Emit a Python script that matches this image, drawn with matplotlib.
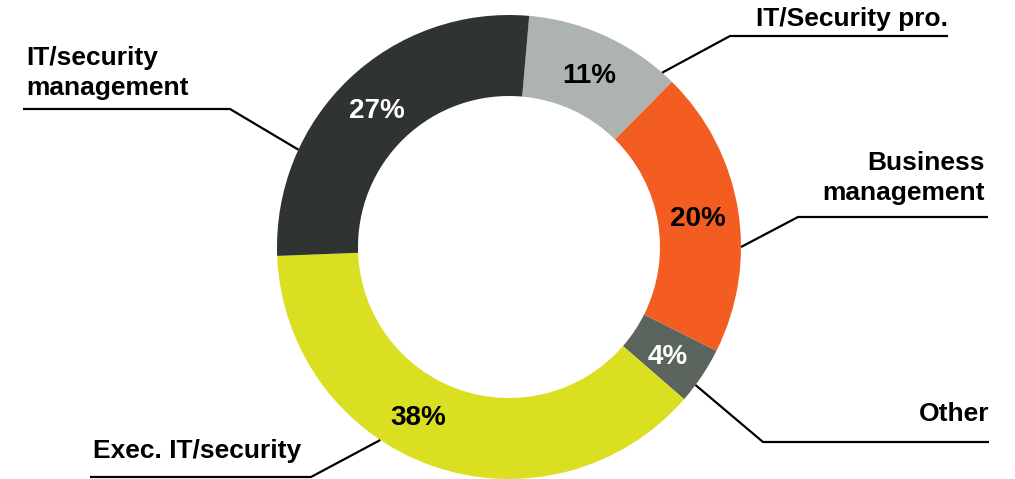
import numpy as np
import matplotlib.pyplot as plt

# Survey breakdown by role
roles = ["IT/Security pro.", "Business\nmanagement", "Other",
         "Exec. IT/security", "IT/security\nmanagement"]
shares = [11, 20, 4, 38, 27]
colors = ["#adb3ae", "#f35d21", "#5b655e", "#dbdf21", "#2f3331"]
pct_colors = ["black", "black", "white", "black", "white"]

W, H = 1015, 479
cx, cy = 509, H - 247
R_out, R_in = 232, 151
start = 85

# leader layout: angle where the line meets the ring, elbow point, end x,
# label anchor (x, first baseline y), alignment
leader_ang = [48.7, 0.0, -36.5, -123.7, 155.2]
elbows = [(730, 36), (798, 217), (763, 442), (311, 477), (230, 109)]
line_end = [948, 988, 989, 90, 23]
label_pos = [(948, 26), (985, 170), (989, 421), (93, 458), (26, 65)]
label_ha = ["right", "right", "right", "left", "left"]
pct_nudge = [0, 0, 0, -9, 0]

fig = plt.figure(figsize=(W / 100, H / 100), dpi=100)
ax = fig.add_axes([0, 0, 1, 1])
ax.set_xlim(0, W)
ax.set_ylim(0, H)
ax.set_aspect("equal")
ax.axis("off")

ax.pie(shares, colors=colors, startangle=start, counterclock=False,
       center=(cx, cy), radius=R_out,
       wedgeprops=dict(width=R_out - R_in, linewidth=0))
ax.set_xlim(0, W)
ax.set_ylim(0, H)

font = "Liberation Sans"
total = sum(shares)
a0 = start
r_mid = (R_out + R_in) / 2
for i, v in enumerate(shares):
    span = 360 * v / total
    mid = np.radians(a0 - span / 2 + pct_nudge[i])
    a0 -= span
    # baseline sits half a cap height below the ring midpoint
    ax.text(cx + r_mid * np.cos(mid), cy + r_mid * np.sin(mid) - 10, f"{v}%",
            ha="center", va="baseline", fontsize=20, fontweight="bold",
            family=font, color=pct_colors[i])

    # leader line: ring edge -> elbow -> underline
    t = np.radians(leader_ang[i])
    ex, ey = cx + R_out * np.cos(t), cy + R_out * np.sin(t)
    bx, by = elbows[i]
    ax.plot([ex, bx, line_end[i]], [ey, H - by, H - by],
            color="black", lw=1.6, solid_capstyle="butt", clip_on=False)

    lx, ly = label_pos[i]
    for k, line in enumerate(roles[i].split("\n")):
        ax.text(lx, H - (ly + 30 * k), line, ha=label_ha[i], va="baseline",
                fontsize=19, fontweight="bold", family=font, color="black")

fig.savefig("out.png", dpi=100)
